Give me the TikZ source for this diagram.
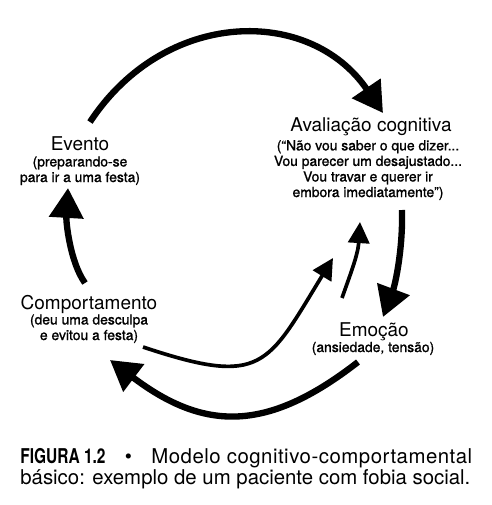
\documentclass[tikz,border=0pt]{standalone}
\usepackage{fontspec}
\setmainfont{TeX Gyre Heros}
\newfontfamily\figfont[FakeStretch=0.76]{TeX Gyre Heros}
\newfontfamily\subfont[FakeBold=1.2]{TeX Gyre Heros}
\usetikzlibrary{
	arrows.meta,
	positioning,
	calc
}

\begin{document}
\begin{tikzpicture}[
        x=0.02cm, y=-0.02cm,
        % 概念标题 (concept title)
        maintxt/.style={
            anchor=base,
            inner sep=0pt,
            font=\fontsize{10.8}{12}\selectfont
        },
        % 概念说明 (concept detail, anchored at last line)
        subtxt/.style={
            anchor=base,
            inner sep=0pt,
            align=center,
            font=\subfont\fontsize{7.9}{8.85}\selectfont
        },
        % 粗箭头 (cycle arrows)
        bigarrow/.style={line width=3.6pt, -{Triangle[length=17pt,width=19pt]}},
        % 细箭头 (feedback arrows)
        thinarrow/.style={line width=2.1pt, -{Triangle[length=12pt,width=12pt]}}
    ]

        \useasboundingbox[fill=white] (0,0) rectangle (492,505);

        % ====================
        % 四个概念 (Four concepts)
        % ====================

        % Node 1: Evento
        \node[maintxt] (N1) at (80,150) {Evento};
        \node[subtxt] (N1s) at (80,182) {(preparando-se\\para ir a uma festa)};

        % Node 2: Avaliação cognitiva
        \node[maintxt] (N2) at (371,131) {Avaliação cognitiva};
        \node[subtxt] (N2s) at (368,197) {(“Não vou saber o que dizer...\\Vou parecer um desajustado...\\Vou travar e querer ir\\embora imediatamente”)};

        % Node 3: Emoção
        \node[maintxt] (N3) at (374,336) {Emoção};
        \node[subtxt] (N3s) at (373,352) {(ansiedade, tensão)};

        % Node 4: Comportamento
        \node[maintxt] (N4) at (89,309) {Comportamento};
        \node[subtxt] (N4s) at (89,340) {(deu uma desculpa\\e evitou a festa)};

        % ====================
        % 箭头端点 (Arrow ends)
        % ====================
        \coordinate (a1s) at (90,122);   \coordinate (a1e) at (383,113);
        \coordinate (a2s) at (402,210);  \coordinate (a2e) at (383,317);
        \coordinate (a3s) at (358,362);  \coordinate (a3e) at (110,360);
        \coordinate (a4s) at (85,283);   \coordinate (a4e) at (68,188);
        \coordinate (b1s) at (342,298);  \coordinate (b1e) at (360,222);
        \coordinate (b2s) at (143,347);  \coordinate (b2e) at (333,258);

        % ====================
        % 连线 (Connections)
        % ====================

        % 外圈循环 (outer cycle)
        \draw[bigarrow] (a1s) .. controls (165,8) and (310,6) .. (a1e);
        \draw[bigarrow] (a2s) .. controls (403,250) and (395,285) .. (a2e);
        \draw[bigarrow] (a3s) .. controls (268,432) and (205,432) .. (a3e);
        \draw[bigarrow] (a4s) .. controls (70,262) and (66,222) .. (a4e);

        % 回到认知的反馈 (feedback to appraisal)
        \draw[thinarrow] (b1s) .. controls (350,275) and (358,255) .. (b1e);
        \draw[thinarrow] (b2s) .. controls (263,387) and (267,366) .. (b2e);

        % ====================
        % 图注 (Caption)
        % ====================
        \node[anchor=north west, inner sep=0pt, text width=9.04cm, align=justify,
              font=\fontsize{11.6}{11.8}\selectfont] (cap) at (20,448)
            {{\figfont\bfseries FIGURA 1.2}\hspace{11pt}\textbullet\hspace{11pt}{\addfontfeature{LetterSpace=2.5}Modelo\hfill cognitivo-comportamental}\linebreak
             básico: exemplo de um paciente com fobia social.};

    \end{tikzpicture}
\end{document}
